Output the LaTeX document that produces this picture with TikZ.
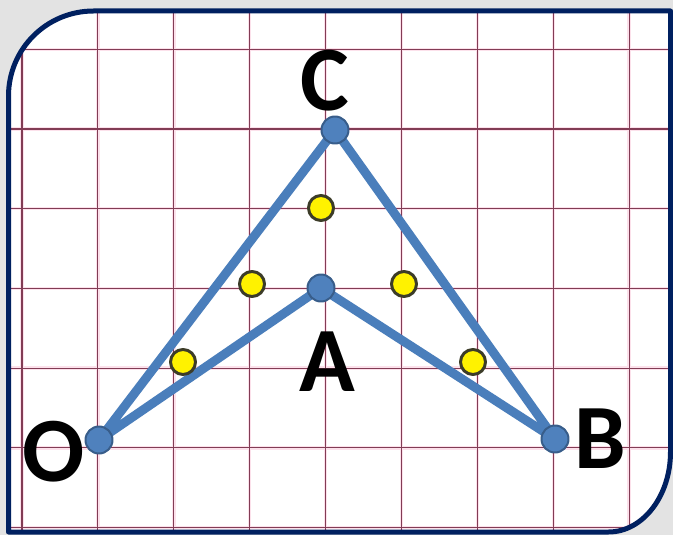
\documentclass[tikz,border=0pt]{standalone}
\usepackage{fontspec}
\setmainfont{Carlito}
\definecolor{navyframe}{RGB}{0,32,96}
\definecolor{gridred}{RGB}{130,60,85}
\definecolor{gridhalo}{RGB}{252,225,235}
\definecolor{segblue}{RGB}{74,126,187}
\definecolor{ptblue}{RGB}{79,129,189}
\definecolor{ptedge}{RGB}{56,93,138}
\definecolor{dotedge}{RGB}{60,60,40}
\begin{document}
\begin{tikzpicture}[x=1pt, y=-1pt, line join=round, line cap=round,
	lbl/.style={font=\fontsize{92}{92}\selectfont\bfseries, inner sep=0pt}]
	\useasboundingbox (0,0) rectangle (673,535);
	\fill[gray!22] (0,0) rectangle (673,535);
	\path (99,440) coordinate (O)
	(335,130) coordinate (C)
	(321,288) coordinate (A)
	(555,439) coordinate (B);
	\def\framepath{(8.5,96) arc[start angle=180, end angle=270, radius=85] -- (670.5,11) -- (670.5,452) arc[start angle=0, end angle=90, x radius=62, y radius=80] -- (8.5,532) -- cycle}
	\fill[white] \framepath;
	\begin{scope}
		\clip \framepath;
		\foreach \i in {0,...,8}
		\draw[gridhalo, line width=3.5pt] (22+75.9*\i,0) -- (22+75.9*\i,535);
		\foreach \j in {0,...,6}
		\draw[gridhalo, line width=3.5pt] (0,49.3+79.7*\j) -- (673,49.3+79.7*\j);
		\foreach \i in {0,...,8}
		\draw[gridred, line width=1.1pt] (22+75.9*\i,0) -- (22+75.9*\i,535);
		\foreach \j in {0,...,6}
		\draw[gridred, line width=1.1pt] (0,49.3+79.7*\j) -- (673,49.3+79.7*\j);
	\end{scope}
	\draw[navyframe, line width=5pt] \framepath;
	\draw[segblue, line width=9pt] (O) -- (C) -- (B) (O) -- (A) -- (B);
	\foreach \x/\y in {321/208, 252/284, 404/284, 183/362, 473/362}
	\filldraw[fill=yellow, draw=dotedge, line width=3pt] (\x,\y) circle (12.5);
	\foreach \p in {O,C,A,B}
	\filldraw[fill=ptblue, draw=ptedge, line width=2pt] (\p) circle (13.5);
	\foreach \p/\x/\y in {O/54/452, C/325/81, A/327/362, B/600/439}
	\node[lbl] (lab\p) at (\x,\y) {\p};
\end{tikzpicture}
\end{document}
